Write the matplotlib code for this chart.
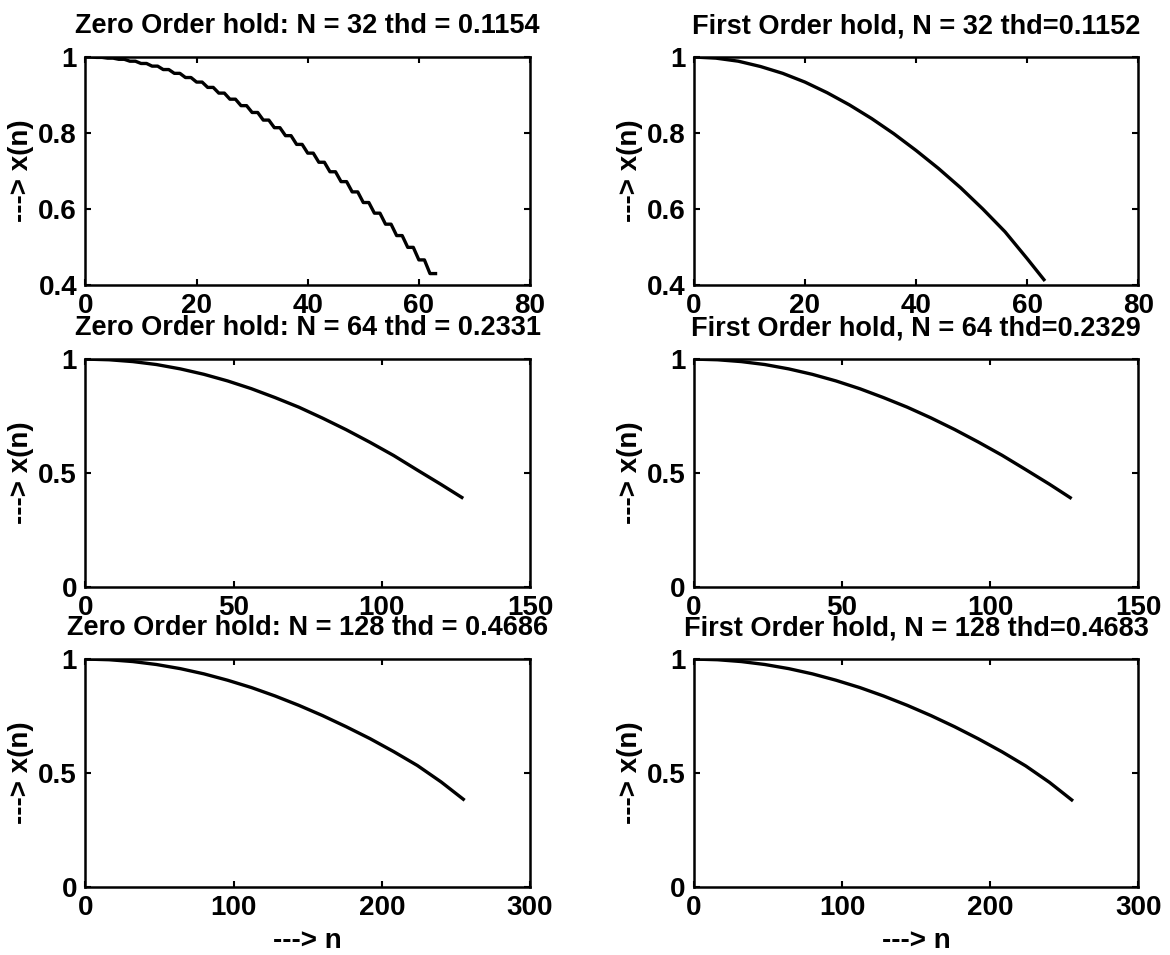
import numpy as np
import matplotlib
matplotlib.use('Agg')
import matplotlib.pyplot as plt
from matplotlib.ticker import FuncFormatter

# Held sample values for the zero order hold, N = 32 (each value held for 2 samples)
zoh32_held = [1.000, 0.999, 0.997, 0.994, 0.989, 0.983, 0.976, 0.967,
              0.957, 0.946, 0.934, 0.920, 0.905, 0.889, 0.872, 0.854,
              0.834, 0.814, 0.793, 0.770, 0.747, 0.723, 0.698, 0.672,
              0.645, 0.617, 0.589, 0.560, 0.530, 0.499, 0.466, 0.430]

# First order hold, N = 32
foh32_n = [0, 4, 8, 12, 16, 20, 24, 28, 32, 36, 40, 44, 48, 52, 56, 60, 63]
foh32_x = [1.000, 0.997, 0.989, 0.975, 0.957, 0.934, 0.906, 0.874, 0.838,
           0.798, 0.754, 0.707, 0.656, 0.600, 0.540, 0.469, 0.414]

# N = 64
n64 = [0, 8, 16, 24, 32, 40, 48, 56, 64, 72, 80, 88, 96, 104, 112, 120, 127]
zoh64_x = [1.000, 0.997, 0.989, 0.976, 0.957, 0.933, 0.904, 0.870, 0.831,
           0.789, 0.741, 0.690, 0.635, 0.577, 0.513, 0.450, 0.393]
foh64_x = [1.000, 0.997, 0.989, 0.976, 0.957, 0.933, 0.904, 0.870, 0.831,
           0.789, 0.742, 0.691, 0.636, 0.578, 0.515, 0.451, 0.392]

# N = 128
n128 = [0, 16, 32, 48, 64, 80, 96, 112, 128, 144, 160, 176, 192, 208, 224, 240, 255]
zoh128_x = [1.000, 0.997, 0.989, 0.976, 0.958, 0.935, 0.907, 0.875, 0.838,
            0.797, 0.752, 0.703, 0.651, 0.594, 0.533, 0.461, 0.385]
foh128_x = [1.000, 0.997, 0.989, 0.976, 0.958, 0.935, 0.907, 0.875, 0.838,
            0.797, 0.752, 0.703, 0.650, 0.593, 0.531, 0.459, 0.382]

titles = ["Zero Order hold: N = 32 thd = 0.1154", "First Order hold, N = 32 thd=0.1152",
          "Zero Order hold: N = 64 thd = 0.2331", "First Order hold, N = 64 thd=0.2329",
          "Zero Order hold: N = 128 thd = 0.4686", "First Order hold, N = 128 thd=0.4683"]

xlims = [(0, 80), (0, 150), (0, 300)]
xticks = [[0, 20, 40, 60, 80], [0, 50, 100, 150], [0, 100, 200, 300]]
ylims = [(0.4, 1.0), (0, 1), (0, 1)]
yticks = [[0.4, 0.6, 0.8, 1.0], [0, 0.5, 1], [0, 0.5, 1]]

plt.rcParams['font.family'] = ['Liberation Sans', 'DejaVu Sans']
plt.rcParams['font.weight'] = 'bold'

fig = plt.figure(figsize=(11.7, 9.55), dpi=100)

# axes placement (figure fractions), MATLAB-like 3x2 subplot grid
lefts = [0.073, 0.593]
bottoms = [0.7016, 0.3853, 0.0712]
w, h = 0.380, 0.2387

series = [
    (np.arange(64), np.repeat(zoh32_held, 2)),
    (foh32_n, foh32_x),
    (n64, zoh64_x),
    (n64, foh64_x),
    (n128, zoh128_x),
    (n128, foh128_x),
]

fmt = FuncFormatter(lambda v, p: f"{v:g}")

for k, (xs, ys) in enumerate(series):
    row, col = divmod(k, 2)
    ax = fig.add_axes([lefts[col], bottoms[row], w, h])
    ax.plot(xs, ys, color='black', lw=2.4, solid_joinstyle='round')
    ax.set_xlim(*xlims[row])
    ax.set_ylim(*ylims[row])
    ax.set_xticks(xticks[row])
    ax.set_yticks(yticks[row])
    ax.xaxis.set_major_formatter(fmt)
    ax.yaxis.set_major_formatter(fmt)
    ax.tick_params(direction='in', length=4, width=1.5, top=True, right=True,
                   labelsize=20, pad=6)
    for s in ax.spines.values():
        s.set_linewidth(1.8)
    ax.set_title(titles[k], fontsize=19.5, fontweight='bold', pad=17)
    ax.set_ylabel('---> x(n)', fontsize=20, fontweight='bold', labelpad=3)
    if row == 2:
        ax.set_xlabel('---> n', fontsize=20, fontweight='bold', labelpad=5)

fig.savefig('out.png', dpi=100)
